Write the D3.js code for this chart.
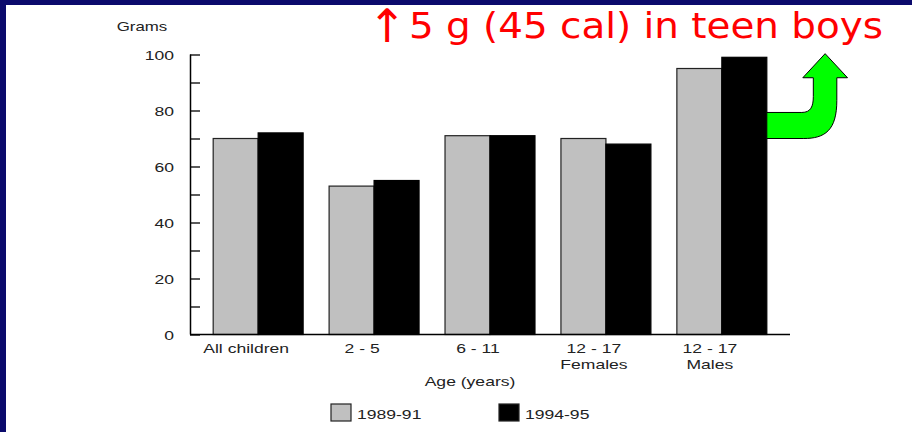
<!DOCTYPE html>
<html><head><meta charset="utf-8">
<script src="https://cdn.jsdelivr.net/npm/d3@7"></script>
<style>
html,body{margin:0;padding:0;background:#fff;}
svg{display:block;}
</style></head>
<body>
<svg id="chart" width="912" height="432"></svg>
<script>
// ---- data ----
const categories = ["All children", "2 - 5", "6 - 11", "12 - 17\nFemales", "12 - 17\nMales"];
const seriesNames = ["1989-91", "1994-95"];
const values1989 = [70, 53, 71, 70, 95];
const values1994 = [72, 55, 71, 68, 99];
const yTicks = [0, 20, 40, 60, 80, 100];
const yMinorTicks = [0, 10, 20, 30, 40, 50, 60, 70, 80, 90, 100];
const titleArrow = "↑";
const titleText = "5 g (45 cal) in teen boys";
const yTitle = "Grams";
const xTitle = "Age (years)";

const W = 912, H = 432;
const svg = d3.select("#chart");
const navy = "#0b0a6c";
const colors = ["#c0c0c0", "#000000"];
const font = "'Liberation Sans', Arial, sans-serif";
const sx = 1.35; // horizontal stretch of chart text

svg.append("rect").attr("x",0).attr("y",0).attr("width",W).attr("height",H).attr("fill","#fff");
svg.append("rect").attr("x",0).attr("y",0).attr("width",W).attr("height",5).attr("fill",navy);
svg.append("rect").attr("x",0).attr("y",0).attr("width",6).attr("height",H).attr("fill",navy);

const x0 = d3.scaleBand().domain(categories).range([190, 790]).paddingInner(0.224).paddingOuter(0.2);
const x1 = d3.scaleBand().domain(seriesNames).range([0, x0.bandwidth()]).padding(0);
const y = d3.scaleLinear().domain([0, 100]).range([334.5, 54.5]);

const data = categories.map((c, i) => ({cat: c, vals: [values1989[i], values1994[i]]}));

// bars
const g = svg.append("g");
const groups = g.selectAll("g.grp").data(data).join("g")
  .attr("transform", d => `translate(${x0(d.cat)},0)`);
groups.selectAll("rect").data(d => d.vals.map((v, j) => ({s: seriesNames[j], v, j})))
  .join("rect")
  .attr("x", d => x1(d.s))
  .attr("y", d => y(d.v))
  .attr("width", x1.bandwidth())
  .attr("height", d => y(0) - y(d.v))
  .attr("fill", d => colors[d.j])
  .attr("stroke", d => d.j === 0 ? "#222" : "#000")
  .attr("stroke-width", 1.2);

// y axis
const yAxis = d3.axisRight(y).tickValues(yMinorTicks).tickSize(10).tickFormat("");
const ya = svg.append("g").attr("transform", "translate(190,0)").call(yAxis);
ya.select(".domain").attr("stroke","#000").attr("stroke-width",1.5).attr("d", `M0.5,${y(100)}V${y(0)}`);
ya.selectAll(".tick line").attr("stroke","#000").attr("stroke-width",1.3);

// y tick labels
yTicks.forEach(t => {
  svg.append("text")
    .attr("transform", `translate(174,${y(t) + 5}) scale(${sx},1)`)
    .attr("text-anchor", "end")
    .attr("font-family", font).attr("font-size", 13).attr("fill", "#222")
    .text(t);
});

// x axis line
svg.append("line").attr("x1", 190).attr("x2", 790).attr("y1", y(0)).attr("y2", y(0))
  .attr("stroke", "#000").attr("stroke-width", 1.5);

// category labels
categories.forEach(c => {
  const cx = x0(c) + x0.bandwidth() / 2 - 12;
  c.split("\n").forEach((line, k) => {
    svg.append("text")
      .attr("transform", `translate(${cx},${353 + k * 16}) scale(${sx},1)`)
      .attr("text-anchor", "middle")
      .attr("font-family", font).attr("font-size", 13).attr("fill", "#222")
      .text(line);
  });
});

// axis titles
svg.append("text").attr("transform", `translate(142,31) scale(${sx},1)`)
  .attr("text-anchor","middle").attr("font-family", font).attr("font-size", 12.5).attr("fill","#222")
  .text(yTitle);
svg.append("text").attr("transform", `translate(470,386) scale(${sx},1)`)
  .attr("text-anchor","middle").attr("font-family", font).attr("font-size", 13).attr("fill","#222")
  .text(xTitle);

// legend
const legX = [331, 499];
seriesNames.forEach((s, j) => {
  svg.append("rect").attr("x", legX[j]).attr("y", 404).attr("width", 20).attr("height", 17)
    .attr("fill", colors[j]).attr("stroke", "#222").attr("stroke-width", 1.2);
  svg.append("text").attr("transform", `translate(${legX[j] + 26},419) scale(${sx},1)`)
    .attr("font-family", font).attr("font-size", 13).attr("fill","#222").text(s);
});

// title
svg.append("text").attr("x", 368).attr("y", 42)
  .attr("font-family", "'DejaVu Sans', sans-serif").attr("font-size", 46).attr("fill", "#ff0000")
  .text(titleArrow);
svg.append("text").attr("x", 409).attr("y", 38)
  .attr("font-family", "'DejaVu Sans', sans-serif").attr("font-size", 35).attr("fill", "#ff0000")
  .attr("textLength", 474).attr("lengthAdjust", "spacingAndGlyphs")
  .text(titleText);

// green U-turn arrow anchored at the right edge of the last bar
const last = categories[categories.length - 1];
const ax = x0(last) + x0.bandwidth();
const yTop = y(79.3), yBot = y(70), yHead = y(91.7), yTip = y(100.3);
const p = d3.path();
p.moveTo(ax, yTop);
p.lineTo(ax + 35, yTop);
p.bezierCurveTo(ax + 44, yTop, ax + 46.5, yTop - 6, ax + 46.5, yTop - 16);
p.lineTo(ax + 46.5, yHead);
p.lineTo(ax + 36, yHead);
p.lineTo(ax + 58.3, yTip);
p.lineTo(ax + 80.7, yHead);
p.lineTo(ax + 70, yHead);
p.lineTo(ax + 70, yTop - 12);
p.bezierCurveTo(ax + 70, yBot - 8, ax + 58, yBot, ax + 37, yBot);
p.lineTo(ax, yBot);
p.closePath();
svg.append("path").attr("d", p.toString()).attr("fill", "#00ff00").attr("stroke", "#000").attr("stroke-width", 1);
</script>
</body></html>
